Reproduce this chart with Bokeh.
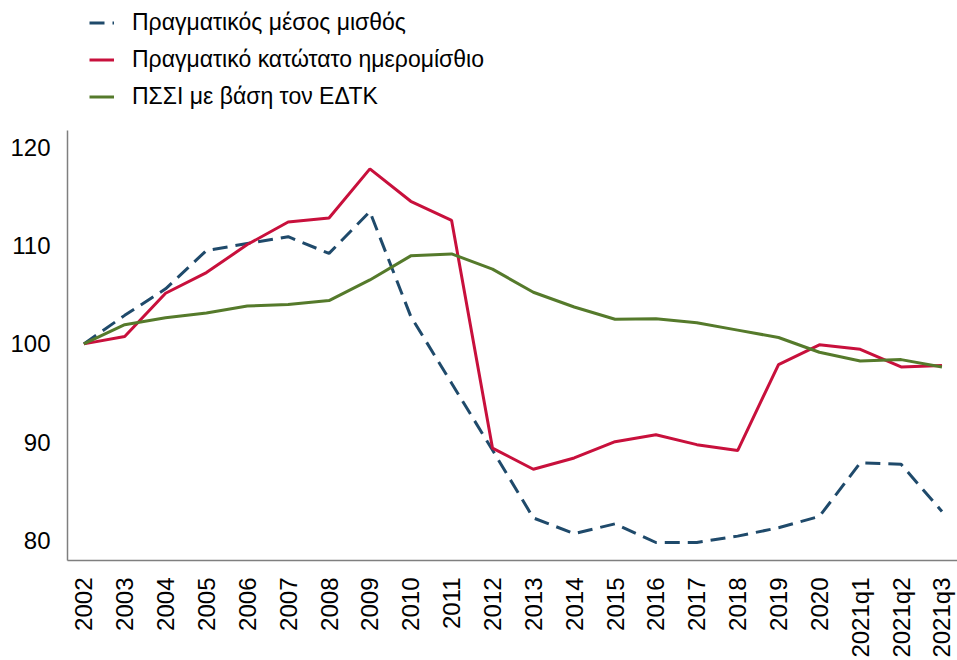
from bokeh.plotting import figure
from bokeh.models import FixedTicker, Range1d, Legend, LegendItem
from bokeh.embed import file_html
from bokeh.resources import INLINE
import math

categories = ["2002", "2003", "2004", "2005", "2006", "2007", "2008", "2009",
              "2010", "2011", "2012", "2013", "2014", "2015", "2016", "2017",
              "2018", "2019", "2020", "2021q1", "2021q2", "2021q3"]

real_avg_wage = [100.0, 102.9, 105.6, 109.5, 110.2, 110.9, 109.2, 113.45,
                 102.8, 96.0, 89.2, 82.3, 80.7, 81.7, 79.8, 79.8,
                 80.45, 81.3, 82.45, 87.9, 87.75, 82.95]

real_min_wage = [100.0, 100.75, 105.15, 107.25, 110.1, 112.4, 112.8, 117.8,
                 114.5, 112.55, 89.4, 87.25, 88.4, 90.05, 90.75, 89.75,
                 89.15, 97.9, 99.9, 99.45, 97.65, 97.8]

hicp_pssi = [100.0, 101.95, 102.65, 103.15, 103.85, 104.0, 104.4, 106.5,
             108.95, 109.15, 107.6, 105.25, 103.75, 102.5, 102.55, 102.15,
             101.4, 100.65, 99.15, 98.25, 98.4, 97.65]

series_labels = ["Πραγματικός μέσος μισθός",
                 "Πραγματικό κατώτατο ημερομίσθιο",
                 "ΠΣΣΙ με βάση τον ΕΔΤΚ"]

y_ticks = [80, 90, 100, 110, 120]

xs = list(range(len(categories)))

FONT = "Liberation Sans"
Y_LO, Y_HI = 77.97, 134.92

p = figure(width=957, height=660,
           min_border_left=67, min_border_top=0, min_border_bottom=0,
           min_border_right=0,
           x_range=Range1d(-0.40, 21.38), y_range=Range1d(Y_LO, Y_HI),
           output_backend="svg", toolbar_location=None,
           background_fill_color="white", border_fill_color="white")

p.outline_line_color = None
p.xgrid.visible = False
p.ygrid.visible = False

r_avg = p.line(xs, real_avg_wage, line_color="#1F4A6B", line_width=3,
               line_dash="15 8")
r_min = p.line(xs, real_min_wage, line_color="#C8103C", line_width=3)
r_hicp = p.line(xs, hicp_pssi, line_color="#557A2B", line_width=3)

p.xaxis.ticker = FixedTicker(ticks=xs)
p.xaxis.major_label_overrides = {i: c for i, c in enumerate(categories)}
p.xaxis.major_label_orientation = math.pi / 2
p.yaxis.ticker = FixedTicker(ticks=y_ticks)
p.yaxis.bounds = (Y_LO, 121.73)

for ax in (p.xaxis[0], p.yaxis[0]):
    ax.axis_line_color = "#7F7F7F"
    ax.axis_line_width = 1.5
    ax.major_tick_line_color = None
    ax.minor_tick_line_color = None
    ax.major_tick_out = 0
    ax.major_tick_in = 0
    ax.minor_tick_out = 0
    ax.minor_tick_in = 0
    ax.axis_label_standoff = 0
    ax.major_label_text_font = FONT
    ax.major_label_text_color = "#000000"

p.xaxis.major_label_text_font_size = "24px"
p.yaxis.major_label_text_font_size = "24px"
p.xaxis.major_label_standoff = 17
p.yaxis.major_label_standoff = 17

legend = Legend(items=[LegendItem(label=series_labels[0], renderers=[r_avg]),
                       LegendItem(label=series_labels[1], renderers=[r_min]),
                       LegendItem(label=series_labels[2], renderers=[r_hicp])],
                location=(22, 450), orientation="vertical",
                margin=0, padding=0, spacing=10,
                glyph_width=25, glyph_height=23, label_height=23,
                label_standoff=18,
                label_text_font=FONT, label_text_font_size="23px",
                label_text_color="#000000",
                border_line_alpha=0, background_fill_alpha=0)
p.add_layout(legend, "center")

open("out.html", "w").write(file_html(p, INLINE))
